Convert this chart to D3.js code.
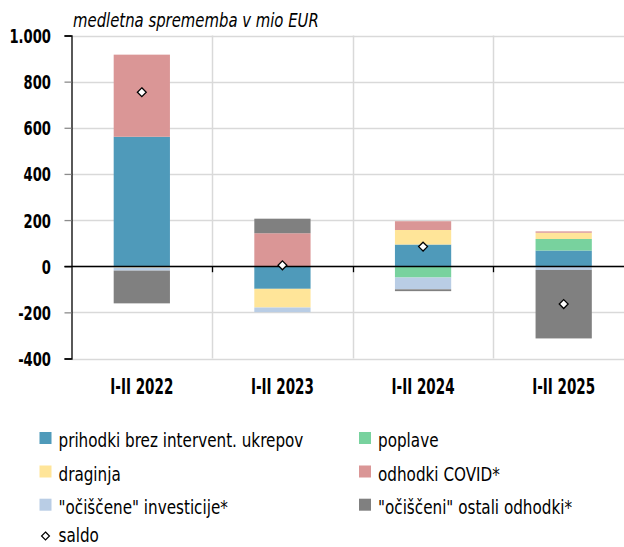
<!DOCTYPE html>
<html>
<head>
<meta charset="utf-8">
<script src="https://cdn.jsdelivr.net/npm/d3@7"></script>
<style>
  body { margin: 0; background: #fff; }
  svg { display: block; font-family: "DejaVu Sans Condensed", "DejaVu Sans", sans-serif; }
</style>
</head>
<body>
<div id="graf"></div>
<script>
// Datos (mio EUR, medletna sprememba)
const obdobja = ["I-II 2022", "I-II 2023", "I-II 2024", "I-II 2025"]
const serije = ["prihodki", "poplave", "draginja", "covid", "investicije", "ostali"]
const imena = ["prihodki brez intervent. ukrepov", "poplave", "draginja", "odhodki COVID*",
               "\"očiščene\" investicije*", "\"očiščeni\" ostali odhodki*"]
const barve = ["#4f9aba", "#78d29e", "#ffe599", "#da9696", "#b9cde5", "#808080"]

const prihodki    = [561, -98, 94, 68]
const poplave     = [0, 0, -49, 50]
const draginja    = [-6, -81, 63, 27]
const covid       = [356, 143, 38, 6]
const investicije = [-13, -20, -51, -16]
const ostali      = [-142, 63, -8, -297]
const saldo       = [754, 4, 85, -164]

const yTicks = [-400, -200, 0, 200, 400, 600, 800, 1000]

// texto estrecho (la fuente original es muy condensada)
const texto = (g, x, y, sx, str) => g.append("text")
  .attr("transform", `translate(${x},${y}) scale(${sx},1)`)
  .text(str)

const draw = (el) => {
  const ancho = 624, alto = 547
  const margin = { top: 35.5, left: 71.5, bottom: 547 - 358.5, right: -10 }

  const svg = d3.select(el).append("svg")
    .attr("width", ancho)
    .attr("height", alto)

  // tabla para el stack
  const tabla = obdobja.map((o, i) => ({
    obdobje: o,
    prihodki: prihodki[i], poplave: poplave[i], draginja: draginja[i],
    covid: covid[i], investicije: investicije[i], ostali: ostali[i],
    saldo: saldo[i]
  }))

  const stack = d3.stack().keys(serije).offset(d3.stackOffsetDiverging)
  const capas = stack(tabla)

  // Escalas
  const x = d3.scaleBand()
    .domain(obdobja)
    .range([margin.left, ancho - margin.right])

  const y = d3.scaleLinear()
    .domain([-400, 1000])
    .range([alto - margin.bottom, margin.top])

  const barW = x.bandwidth() * 0.4

  // Cuadricula horizontal
  svg.append("g")
    .selectAll("line")
    .data(yTicks)
    .join("line")
    .attr("x1", margin.left)
    .attr("x2", ancho)
    .attr("y1", d => Math.round(y(d)) + 0.5)
    .attr("y2", d => Math.round(y(d)) + 0.5)
    .attr("stroke", "#d9d9d9")
    .attr("stroke-width", 1.5)

  // Cuadricula vertical (entre categorias)
  svg.append("g")
    .selectAll("line")
    .data(obdobja.slice(1))
    .join("line")
    .attr("x1", d => Math.round(x(d)) + 0.5)
    .attr("x2", d => Math.round(x(d)) + 0.5)
    .attr("y1", y(1000))
    .attr("y2", y(-400))
    .attr("stroke", "#d9d9d9")
    .attr("stroke-width", 1.5)

  // Barras
  svg.append("g")
    .selectAll("g")
    .data(capas)
    .join("g")
    .attr("fill", (d, i) => barve[i])
    .selectAll("rect")
    .data(d => d)
    .join("rect")
    .attr("x", d => x(d.data.obdobje) + (x.bandwidth() - barW) / 2)
    .attr("width", barW)
    .attr("y", d => y(Math.max(d[0], d[1])))
    .attr("height", d => Math.abs(y(d[0]) - y(d[1])))

  // Linea de cero
  svg.append("line")
    .attr("x1", margin.left - 7)
    .attr("x2", ancho)
    .attr("y1", Math.round(y(0)) + 0.5)
    .attr("y2", Math.round(y(0)) + 0.5)
    .attr("stroke", "#000")
    .attr("stroke-width", 1.3)

  svg.append("g")
    .selectAll("line")
    .data(obdobja.slice(1))
    .join("line")
    .attr("x1", d => Math.round(x(d)) + 0.5)
    .attr("x2", d => Math.round(x(d)) + 0.5)
    .attr("y1", y(0))
    .attr("y2", y(0) + 6)
    .attr("stroke", "#000")
    .attr("stroke-width", 1.3)

  // Eje Y
  const ejeY = svg.append("g")
    .attr("transform", `translate(${margin.left},0)`)
    .call(d3.axisLeft(y).tickValues(yTicks).tickSize(7).tickFormat(""))
  ejeY.select(".domain").attr("stroke", "#000").attr("stroke-width", 1.3)
  ejeY.selectAll(".tick line")
    .attr("stroke", d => (d === 1000 || d === -400 || d === 0) ? "#000" : "#8c8c8c")
    .attr("stroke-width", 1.3)

  const etiqY = svg.append("g")
    .attr("font-size", 20)
    .attr("font-weight", "bold")
    .attr("text-anchor", "end")
  yTicks.forEach(t => {
    texto(etiqY, 51, y(t) + 7.5, 0.73, d3.format(",")(t).replace(",", ".").replace("−", "-"))
  })

  // Etiquetas X
  const etiqX = svg.append("g")
    .attr("font-size", 21)
    .attr("font-weight", "bold")
    .attr("text-anchor", "middle")
  obdobja.forEach(o => texto(etiqX, x(o) + x.bandwidth() / 2, 394, 0.715, o))

  // Saldo
  const rombo = d3.symbol().type(d3.symbolDiamond2).size(50)
  svg.append("g")
    .selectAll("path")
    .data(tabla)
    .join("path")
    .attr("transform", d => `translate(${x(d.obdobje) + x.bandwidth() / 2},${y(d.saldo)})`)
    .attr("d", rombo)
    .attr("fill", "#fff")
    .attr("stroke", "#000")
    .attr("stroke-width", 1.3)

  // Titulo
  const tit = svg.append("g")
    .attr("font-size", 19)
    .attr("font-style", "italic")
  texto(tit, 73, 27, 0.87, "medletna sprememba v mio EUR")

  // Leyenda
  const leg = svg.append("g").attr("font-size", 19)
  const filas = [438, 471.5, 504.7]
  serije.forEach((s, i) => {
    const gx = i % 2 === 0 ? 39.5 : 359
    const gy = filas[Math.floor(i / 2)]
    leg.append("rect")
      .attr("x", gx).attr("y", gy - 6)
      .attr("width", 12).attr("height", 12)
      .attr("fill", barve[i])
    texto(leg, gx + 19, gy + 9, 0.89, imena[i])
  })
  leg.append("path")
    .attr("transform", "translate(45.5,536)")
    .attr("d", d3.symbol().type(d3.symbolDiamond2).size(40))
    .attr("fill", "#fff")
    .attr("stroke", "#000")
    .attr("stroke-width", 1.2)
  texto(leg, 58.5, 542, 0.89, "saldo")
}

draw("#graf")
</script>
</body>
</html>
